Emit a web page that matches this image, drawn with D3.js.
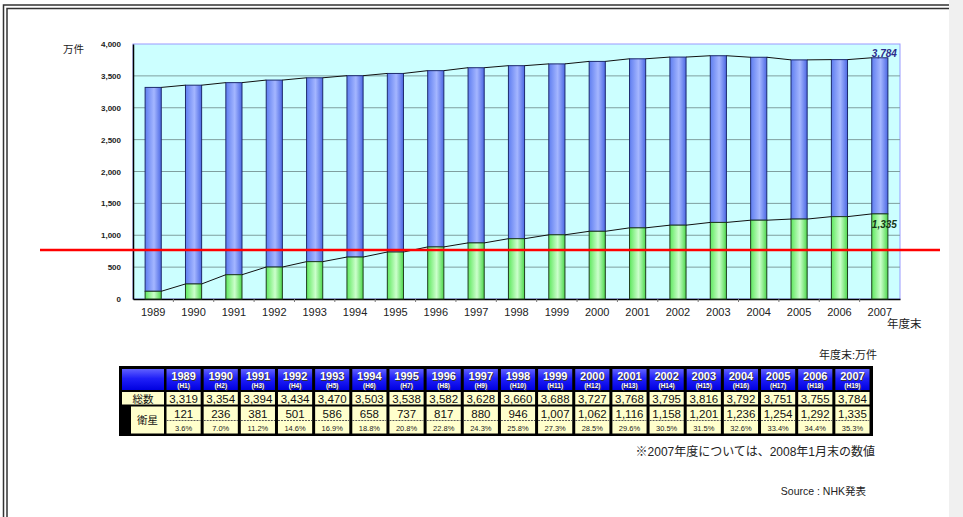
<!DOCTYPE html>
<html><head><meta charset="utf-8">
<script src="https://cdn.jsdelivr.net/npm/d3@7"></script>
<style>
body{margin:0;background:#fff;}
svg{display:block;font-family:"Liberation Sans",Arial,sans-serif;}
.jp{font-family:"Liberation Sans","Noto Sans CJK JP",sans-serif;}
</style></head>
<body>
<script>
const years = [1989,1990,1991,1992,1993,1994,1995,1996,1997,1998,1999,2000,2001,2002,2003,2004,2005,2006,2007];
const heisei = ["H1","H2","H3","H4","H5","H6","H7","H8","H9","H10","H11","H12","H13","H14","H15","H16","H17","H18","H19"];
const totals = [3319,3354,3394,3434,3470,3503,3538,3582,3628,3660,3688,3727,3768,3795,3816,3792,3751,3755,3784];
const satellite = [121,236,381,501,586,658,737,817,880,946,1007,1062,1116,1158,1201,1236,1254,1292,1335];
const satShare = ["3.6%","7.0%","11.2%","14.6%","16.9%","18.8%","20.8%","22.8%","24.3%","25.8%","27.3%","28.5%","29.6%","30.5%","31.5%","32.6%","33.4%","34.4%","35.3%"];
const yTicks = [0,500,1000,1500,2000,2500,3000,3500,4000];
const markerValue = 770;

const W = 963, H = 517;
const svg = d3.select("body").append("svg").attr("width", W).attr("height", H);
const defs = svg.append("defs");

function hGrad(id, stops){
  const g = defs.append("linearGradient").attr("id", id).attr("x1","0").attr("x2","1").attr("y1","0").attr("y2","0");
  stops.forEach(s => g.append("stop").attr("offset", s[0]).attr("stop-color", s[1]));
}
hGrad("gBlue", [[0,"#5f7ef0"],[0.55,"#a4b6ff"],[1,"#4c68e4"]]);
hGrad("gGreen", [[0,"#5ee85e"],[0.55,"#ccffcc"],[1,"#4cd84c"]]);
const hg = defs.append("linearGradient").attr("id","gHead").attr("x1","0").attr("x2","0").attr("y1","0").attr("y2","1");
hg.append("stop").attr("offset",0).attr("stop-color","#6060ff");
hg.append("stop").attr("offset",0.45).attr("stop-color","#2020f8");
hg.append("stop").attr("offset",1).attr("stop-color","#0000e0");

// outer double frame
svg.append("rect").attr("x",3.5).attr("y",5).attr("width",980).attr("height",600).attr("fill","none").attr("stroke","#333").attr("stroke-width",1.5);
svg.append("rect").attr("x",7).attr("y",8.5).attr("width",980).attr("height",600).attr("fill","none").attr("stroke","#333").attr("stroke-width",1.5);

// scales
const x = d3.scaleBand().domain(years).range([133, 900]).paddingInner(0.6).paddingOuter(0.3);
const y = d3.scaleLinear().domain([0, 4000]).range([299, 44]);
const plotL = 133, plotR = 900;

// plot background
svg.append("rect").attr("x", plotL).attr("y", y(4000)).attr("width", plotR - plotL).attr("height", y(0) - y(4000))
  .attr("fill", "#ccffff").attr("stroke", "#9999ff").attr("stroke-width", 1);

// grid
svg.append("g").selectAll("line").data(yTicks.filter(d => d > 0 && d < 4000)).join("line")
  .attr("x1", plotL).attr("x2", plotR).attr("y1", d => y(d)).attr("y2", d => y(d))
  .attr("stroke", "#7f9f9f").attr("stroke-width", 1);

// y axis
const yAxis = svg.append("g").attr("transform", `translate(${plotL},0)`)
  .call(d3.axisLeft(y).tickValues(yTicks).tickFormat(d3.format(",")).tickSize(0).tickPadding(12));
yAxis.select(".domain").attr("stroke", "#000").attr("stroke-width", 1.5);
yAxis.selectAll("text").attr("font-size", 8).attr("font-weight", "bold").attr("fill", "#222")
  .attr("font-family", "'Liberation Sans',Arial,sans-serif");

// x axis
const xAxis = svg.append("g").attr("transform", `translate(0,${y(0)})`)
  .call(d3.axisBottom(x).tickSize(0).tickPadding(9));
xAxis.select(".domain").attr("stroke", "#000").attr("stroke-width", 1.5);
xAxis.selectAll("text").attr("font-size", 11).attr("fill", "#222")
  .attr("font-family", "'Liberation Sans',Arial,sans-serif");
// category boundary ticks
svg.append("g").selectAll("line").data(years.slice(1)).join("line")
  .attr("x1", d => x(d) - x.step() * x.paddingInner() / 2).attr("x2", d => x(d) - x.step() * x.paddingInner() / 2)
  .attr("y1", y(0)).attr("y2", y(0) + 3).attr("stroke", "#777").attr("stroke-width", 1);

// bars
const bars = svg.append("g");
bars.selectAll("rect.tot").data(years).join("rect").attr("class","tot")
  .attr("x", d => x(d)).attr("width", x.bandwidth())
  .attr("y", (d,i) => y(totals[i])).attr("height", (d,i) => y(satellite[i]) - y(totals[i]))
  .attr("fill", "url(#gBlue)").attr("stroke", "#1d2a6e").attr("stroke-width", 1);
bars.selectAll("rect.sat").data(years).join("rect").attr("class","sat")
  .attr("x", d => x(d)).attr("width", x.bandwidth())
  .attr("y", (d,i) => y(satellite[i])).attr("height", (d,i) => y(0) - y(satellite[i]))
  .attr("fill", "url(#gGreen)").attr("stroke", "#1f3d1f").attr("stroke-width", 1);

// series lines
function seriesLines(vals){
  const segs = [];
  for (let i = 0; i < years.length - 1; i++) {
    segs.push([x(years[i]) + x.bandwidth(), y(vals[i]), x(years[i+1]), y(vals[i+1])]);
  }
  svg.append("g").selectAll("line").data(segs).join("line")
    .attr("x1", s => s[0]).attr("y1", s => s[1]).attr("x2", s => s[2]).attr("y2", s => s[3])
    .attr("stroke", "#111").attr("stroke-width", 1);
}
seriesLines(totals);
seriesLines(satellite);

// data labels
const last = years.length - 1;
svg.append("text").attr("x", x(years[last]) + x.bandwidth() + 9).attr("y", y(totals[last]) - 1)
  .attr("text-anchor", "end").attr("font-size", 10).attr("font-weight", "bold").attr("font-style", "italic")
  .attr("fill", "#2b2b8c").text(d3.format(",")(totals[last]));
svg.append("text").attr("x", x(years[last]) + x.bandwidth() + 9).attr("y", y(satellite[last]) + 14)
  .attr("text-anchor", "end").attr("font-size", 10).attr("font-weight", "bold").attr("font-style", "italic")
  .attr("fill", "#163816").text(d3.format(",")(satellite[last]));

// unit labels
svg.append("text").attr("class","jp").attr("x", 63).attr("y", 53).attr("font-size", 10.5).attr("fill","#222").text("万件");
svg.append("text").attr("class","jp").attr("x", 887).attr("y", 328).attr("font-size", 11.5).attr("fill","#222").text("年度末");

// red marker line
svg.append("line").attr("x1", 40).attr("x2", 940).attr("y1", y(markerValue)).attr("y2", y(markerValue))
  .attr("stroke", "#ff0000").attr("stroke-width", 2.5);

// ---- table ----
const tx = d3.scaleBand().domain(years).range([165, 871]);
const tTop = 366, tBot = 436;
const rHead = [369, 390], rTot = [392, 404.5], rSat = [406.5, 433.5], dashY = 420.5;
svg.append("text").attr("class","jp").attr("x", 877).attr("y", 359).attr("text-anchor","end")
  .attr("font-size", 11).attr("fill","#222").text("年度末:万件");
svg.append("rect").attr("x", 119).attr("y", tTop).attr("width", 873 - 119).attr("height", tBot - tTop).attr("fill", "#000");
// left column
svg.append("rect").attr("x",122).attr("y",rHead[0]).attr("width",42).attr("height",rHead[1]-rHead[0]).attr("fill","url(#gHead)");
svg.append("rect").attr("x",122).attr("y",rTot[0]).attr("width",42).attr("height",rTot[1]-rTot[0]).attr("fill","#ffffcc");
svg.append("rect").attr("x",131).attr("y",rSat[0]).attr("width",33).attr("height",rSat[1]-rSat[0]).attr("fill","#ffffcc");
svg.append("text").attr("class","jp").attr("x",143).attr("y",rTot[1]-2).attr("text-anchor","middle").attr("font-size",10.5).attr("fill","#111").text("総数");
svg.append("text").attr("class","jp").attr("x",147.5).attr("y",(rSat[0]+rSat[1])/2+4).attr("text-anchor","middle").attr("font-size",10.5).attr("fill","#111").text("衛星");

const cols = svg.append("g").selectAll("g").data(years).join("g").attr("transform", d => `translate(${tx(d)},0)`);
const cw = tx.bandwidth();
cols.append("rect").attr("x",1.5).attr("y",rHead[0]).attr("width",cw-3).attr("height",rHead[1]-rHead[0]).attr("fill","url(#gHead)");
cols.append("rect").attr("x",1.5).attr("y",rTot[0]).attr("width",cw-3).attr("height",rTot[1]-rTot[0]).attr("fill","#ffffcc");
cols.append("rect").attr("x",1.5).attr("y",rSat[0]).attr("width",cw-3).attr("height",rSat[1]-rSat[0]).attr("fill","#ffffcc");
cols.append("line").attr("x1",1.5).attr("x2",cw-1.5).attr("y1",dashY).attr("y2",dashY)
  .attr("stroke","#555").attr("stroke-width",1).attr("stroke-dasharray","2,1");
// header texts with shadow
cols.append("text").attr("x",cw/2+1).attr("y",381).attr("text-anchor","middle").attr("font-size",11).attr("font-weight","bold").attr("fill","#333").text(d => d);
cols.append("text").attr("x",cw/2).attr("y",380).attr("text-anchor","middle").attr("font-size",11).attr("font-weight","bold").attr("fill","#fff").text(d => d);
cols.append("text").attr("x",cw/2+1).attr("y",389).attr("text-anchor","middle").attr("font-size",6.5).attr("font-weight","bold").attr("fill","#333").text((d,i) => "(" + heisei[i] + ")");
cols.append("text").attr("x",cw/2).attr("y",388).attr("text-anchor","middle").attr("font-size",6.5).attr("font-weight","bold").attr("fill","#fff").text((d,i) => "(" + heisei[i] + ")");
cols.append("text").attr("x",cw/2).attr("y",403).attr("text-anchor","middle").attr("font-size",11.5).attr("fill","#111").text((d,i) => d3.format(",")(totals[i]));
cols.append("text").attr("x",cw/2).attr("y",418).attr("text-anchor","middle").attr("font-size",11.5).attr("fill","#111").text((d,i) => d3.format(",")(satellite[i]));
cols.append("text").attr("x",cw/2).attr("y",431).attr("text-anchor","middle").attr("font-size",7.5).attr("fill","#222").text((d,i) => satShare[i]);

// notes
svg.append("text").attr("class","jp").attr("x", 875).attr("y", 456).attr("text-anchor","end")
  .attr("font-size", 12).attr("fill","#222").text("※2007年度については、2008年1月末の数値");
svg.append("text").attr("class","jp").attr("x", 866).attr("y", 495).attr("text-anchor","end")
  .attr("font-size", 10.5).attr("fill","#222").text("Source : NHK発表");

// right gray band
svg.append("rect").attr("x", 949).attr("y", 0).attr("width", W - 949).attr("height", H).attr("fill", "#f0f0f0");
</script>
</body></html>
